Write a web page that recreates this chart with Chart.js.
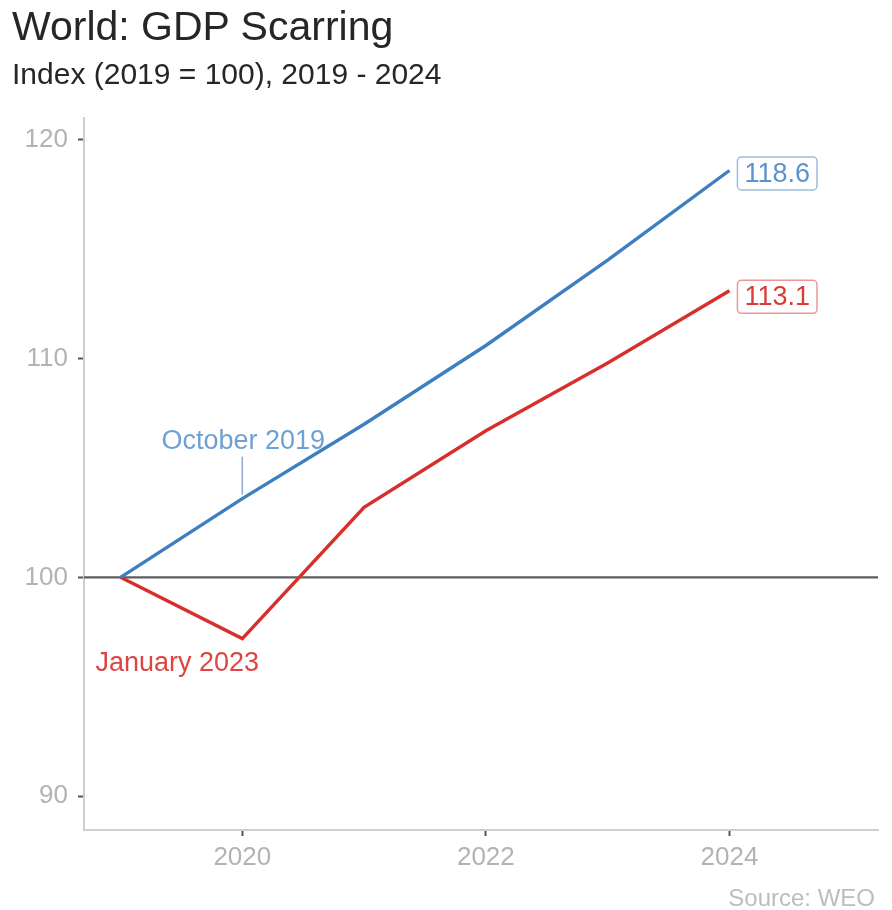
<!DOCTYPE html>
<html>
<head>
<meta charset="utf-8">
<script src="https://cdn.jsdelivr.net/npm/chart.js@4.4.0/dist/chart.umd.min.js"></script>
<style>
  html, body { margin: 0; padding: 0; background: #ffffff; }
  #wrap { position: relative; width: 892px; height: 910px; overflow: hidden; }
  #wrap canvas { position: absolute; left: 0; top: 0; }
  .txt { position: absolute; font-family: "Liberation Sans", Arial, sans-serif; line-height: 1; white-space: nowrap; }
  #title { left: 12px; top: 6px; font-size: 41px; color: #262626; }
  #subtitle { left: 12px; top: 59px; font-size: 30px; color: #262626; }
  #source { right: 17px; top: 886px; font-size: 24px; color: #bdbdbd; }
</style>
</head>
<body>
<div id="wrap">
  <canvas id="c" width="892" height="910"></canvas>
  <div class="txt" id="title">World: GDP Scarring</div>
  <div class="txt" id="subtitle">Index (2019 = 100), 2019 - 2024</div>
  <div class="txt" id="source">Source: WEO</div>
</div>
<script>
// ---- data ----
const YEARS = [2019, 2020, 2021, 2022, 2023, 2024];
const OCT_2019 = [100, 103.6, 107.0, 110.6, 114.5, 118.6];
const JAN_2023 = [100, 97.2, 103.2, 106.7, 109.8, 113.1];
const SERIES_NAMES = ["October 2019", "January 2023"];
const X_TICKS = [2020, 2022, 2024];
const Y_TICKS = [90, 100, 110, 120];
const REF_VALUE = 100;

// ---- styles ----
const FONT = '"Liberation Sans", Arial, sans-serif';
const BLUE = '#3d7fc1';
const RED = '#d7302c';
const BLUE_TXT = '#5b93cc';
const RED_TXT = '#d83c39';

const toPts = (vals) => YEARS.map((yr, i) => ({ x: yr, y: vals[i] }));

const annotPlugin = {
  id: 'annot',
  beforeDatasetsDraw(chart) {
    const { ctx, chartArea, scales } = chart;
    const y = scales.y.getPixelForValue(REF_VALUE);
    ctx.save();
    ctx.strokeStyle = '#5e5e5e';
    ctx.lineWidth = 2.2;
    ctx.beginPath();
    ctx.moveTo(chartArea.left, y);
    ctx.lineTo(chartArea.right, y);
    ctx.stroke();
    ctx.restore();
  },
  afterDatasetsDraw(chart) {
    const { ctx, scales } = chart;
    const xs = scales.x, ys = scales.y;
    ctx.save();
    const x2020 = xs.getPixelForValue(YEARS[1]);
    const yBlue = ys.getPixelForValue(OCT_2019[1]);
    const yRed = ys.getPixelForValue(JAN_2023[1]);
    ctx.font = '27px ' + FONT;
    ctx.textAlign = 'center';
    ctx.textBaseline = 'middle';
    ctx.fillStyle = '#6fa0d3';
    ctx.fillText(SERIES_NAMES[0], x2020 + 1, yBlue - 57);
    ctx.strokeStyle = '#8aa9cc';
    ctx.lineWidth = 1.5;
    ctx.beginPath();
    ctx.moveTo(x2020, yBlue - 42);
    ctx.lineTo(x2020, yBlue - 4);
    ctx.stroke();
    ctx.fillStyle = '#db4542';
    ctx.fillText(SERIES_NAMES[1], x2020 - 65, yRed + 25);

    const last = YEARS.length - 1;
    const xEnd = xs.getPixelForValue(YEARS[last]) + 8;
    const boxes = [
      { v: OCT_2019[last], txt: BLUE_TXT, border: '#9cbde0', dy: 3 },
      { v: JAN_2023[last], txt: RED_TXT, border: '#e99a98', dy: 6 }
    ];
    ctx.font = '27px ' + FONT;
    ctx.textAlign = 'left';
    boxes.forEach(b => {
      const label = b.v.toFixed(1);
      const w = ctx.measureText(label).width + 14;
      const h = 33;
      const cy = ys.getPixelForValue(b.v) + b.dy;
      ctx.fillStyle = '#ffffff';
      ctx.strokeStyle = b.border;
      ctx.lineWidth = 1.5;
      ctx.beginPath();
      ctx.roundRect(xEnd, cy - h / 2, w, h, 4);
      ctx.fill();
      ctx.stroke();
      ctx.fillStyle = b.txt;
      ctx.textBaseline = 'middle';
      ctx.fillText(label, xEnd + 7, cy + 1);
    });
    ctx.restore();
  }
};

new Chart(document.getElementById('c'), {
  type: 'line',
  data: {
    datasets: [
      { label: SERIES_NAMES[0], data: toPts(OCT_2019), borderColor: BLUE, borderWidth: 3.4, pointRadius: 0, tension: 0, fill: false },
      { label: SERIES_NAMES[1], data: toPts(JAN_2023), borderColor: RED, borderWidth: 3.4, pointRadius: 0, tension: 0, fill: false }
    ]
  },
  options: {
    responsive: false,
    animation: false,
    layout: { padding: { left: 0, top: 118, right: 14, bottom: 0 } },
    plugins: { legend: { display: false }, tooltip: { enabled: false }, title: { display: false } },
    scales: {
      x: {
        type: 'linear',
        min: 2018.70,
        max: 2025.22,
        afterFit(scale) { scale.height = 80; },
        afterBuildTicks(scale) { scale.ticks = X_TICKS.map(v => ({ value: v })); },
        grid: { drawOnChartArea: false, drawTicks: true, tickLength: 6, tickWidth: 2, tickColor: '#555555', color: '#555555' },
        border: { display: true, color: '#cfcfcf', width: 2 },
        ticks: { color: '#b3b3b3', font: { family: FONT, size: 26 }, padding: 6, callback: v => String(v), maxRotation: 0 }
      },
      y: {
        type: 'linear',
        min: 88.45,
        max: 121.0,
        afterFit(scale) { scale.width = 84; },
        afterBuildTicks(scale) { scale.ticks = Y_TICKS.map(v => ({ value: v })); },
        grid: { drawOnChartArea: false, drawTicks: true, tickLength: 6, tickWidth: 2, tickColor: '#555555', color: '#555555' },
        border: { display: true, color: '#cfcfcf', width: 2 },
        ticks: { color: '#b3b3b3', font: { family: FONT, size: 26 }, padding: 10, callback: v => String(v) }
      }
    }
  },
  plugins: [annotPlugin]
});
</script>
</body>
</html>
